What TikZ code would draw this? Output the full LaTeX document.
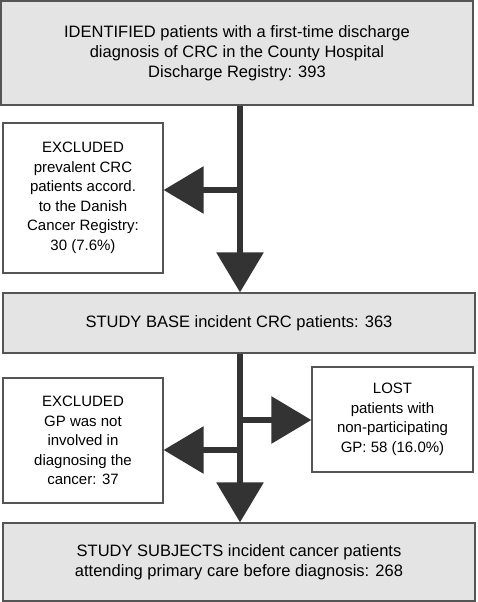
\documentclass[tikz,border=0pt]{standalone}
\usepackage{fontspec}
\setmainfont{Liberation Sans}
\usetikzlibrary{arrows.meta}
\definecolor{boxgray}{HTML}{E4E4E4}
\definecolor{edge}{HTML}{555555}
\definecolor{arrowc}{HTML}{333333}
\tikzset{
  mainbox/.style={draw=edge, line width=1.2pt, fill=boxgray, align=center, inner sep=0pt, font=\fontsize{16.5}{20}\selectfont},
  sidebox/.style={draw=edge, line width=1.2pt, fill=white, align=center, inner sep=0pt, font=\fontsize{15}{19.5}\selectfont},
  bigarrow/.style={draw=arrowc, line width=6pt, -{Triangle[length=40pt,width=46pt,fill=arrowc]}},
}
\begin{document}
\begin{tikzpicture}[x=1pt,y=-1pt]
\useasboundingbox (0,0) rectangle (477,602);
\node[mainbox, minimum width=472pt, minimum height=104pt] (ident) at (237,53)
  {IDENTIFIED patients with a first-time discharge\\diagnosis of CRC in the County Hospital\\Discharge Registry: 393};
\node[sidebox, minimum width=160pt, minimum height=150pt] (exprev) at (83,198)
  {EXCLUDED\\prevalent CRC\\patients accord.\\to the Danish\\Cancer Registry:\\30 (7.6\%)};
\node[mainbox, minimum width=472pt, minimum height=60pt] (base) at (239,323)
  {STUDY BASE incident CRC patients: 363};
\node[sidebox, minimum width=160pt, minimum height=125pt] (exgp) at (83,440.5)
  {EXCLUDED\\GP was not\\involved in\\diagnosing the\\cancer: 37};
\node[sidebox, minimum width=161pt, minimum height=105pt] (lost) at (392.5,419.5)
  {LOST\\patients with\\non-participating\\GP: 58 (16.0\%)};
\node[mainbox, minimum width=472pt, minimum height=78pt] (subj) at (239,562)
  {STUDY SUBJECTS incident cancer patients\\attending primary care before diagnosis: 268};
\coordinate (j1) at (240,190);
\coordinate (j2) at (240,420);
\coordinate (j3) at (240,450);
\draw[bigarrow] (ident.south -| j1) -- (base.north -| j1);
\draw[bigarrow] (j1) -- (j1 -| exprev.east);
\draw[bigarrow] (base.south -| j2) -- (subj.north -| j2);
\draw[bigarrow] (j2) -- (j2 -| lost.west);
\draw[bigarrow] (j3) -- (j3 -| exgp.east);
\end{tikzpicture}
\end{document}
